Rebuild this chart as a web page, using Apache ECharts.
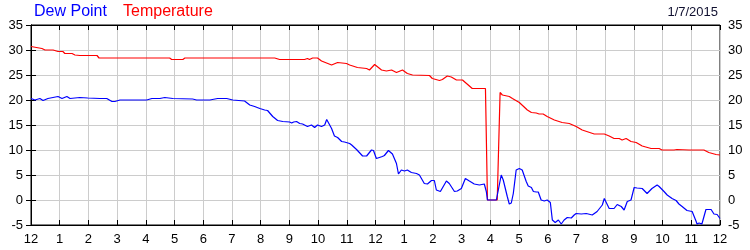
<!DOCTYPE html>
<html>
<head>
<meta charset="utf-8">
<script src="https://cdn.jsdelivr.net/npm/echarts@6/dist/echarts.min.js"></script>
<style>html,body{margin:0;padding:0;background:#fff;}#c{width:750px;height:250px;}</style>
</head>
<body>
<div id="c"></div>
<script>
// Hours since midnight and temperature values
var tempHours = [0.00,0.38,0.49,0.77,0.94,1.11,1.18,1.43,1.53,1.70,2.30,2.37,4.83,4.90,5.29,5.36,8.49,8.66,9.53,9.63,9.70,9.81,9.98,10.12,10.47,10.68,10.99,11.10,11.37,11.69,11.79,11.97,12.21,12.38,12.56,12.73,12.94,13.11,13.29,13.88,13.98,14.23,14.33,14.50,14.64,14.82,15.03,15.37,15.83,15.90,16.24,16.34,16.42,16.66,16.77,17.01,17.29,17.43,17.60,17.70,17.84,17.98,18.23,18.50,18.75,18.99,19.20,19.62,19.97,20.14,20.31,20.49,20.59,20.73,20.90,21.08,21.29,21.60,21.88,21.98,22.40,22.50,22.92,23.44,23.61,23.86,24.00];
var tempValues = [30.7,30.3,30.0,30.0,29.7,29.7,29.3,29.3,29.0,28.9,28.9,28.4,28.4,28.1,28.1,28.4,28.4,28.1,28.1,28.3,28.1,28.4,28.4,27.8,27.0,27.5,27.3,27.0,26.5,26.3,26.0,27.1,26.0,25.8,26.0,25.5,26.0,25.3,25.0,24.9,24.3,23.9,24.1,24.8,24.6,24.0,24.0,22.3,22.3,0,0,21.5,21.0,20.7,20.3,19.5,18.0,17.5,17.4,17.2,17.2,16.7,16.0,15.5,15.3,14.7,14.0,13.2,13.2,12.8,12.3,12.3,12.0,12.3,11.7,11.5,10.8,10.3,10.3,10.0,10.0,10.1,10.0,10.0,9.5,9.1,9.0];

// Hours since midnight and dew point values
var dewHours = [0.00,0.14,0.31,0.42,0.59,0.94,1.08,1.25,1.36,1.70,1.98,2.40,2.64,2.82,2.92,3.10,3.55,4.03,4.21,4.49,4.66,4.94,5.63,5.77,6.12,6.16,6.23,6.50,6.82,7.03,7.44,7.62,7.79,7.97,8.14,8.24,8.42,8.59,8.77,9.01,9.08,9.15,9.25,9.36,9.46,9.63,9.77,9.88,9.98,10.12,10.23,10.30,10.47,10.57,10.68,10.82,10.92,11.10,11.17,11.34,11.55,11.69,11.86,11.93,12.03,12.24,12.31,12.45,12.59,12.73,12.80,12.90,13.01,13.11,13.25,13.43,13.53,13.70,13.81,13.95,14.05,14.12,14.26,14.47,14.57,14.75,14.85,14.99,15.13,15.27,15.44,15.62,15.79,15.86,15.90,16.21,16.38,16.45,16.59,16.66,16.73,16.80,16.90,17.01,17.11,17.25,17.32,17.43,17.50,17.60,17.67,17.77,17.88,17.98,18.09,18.16,18.26,18.37,18.47,18.57,18.68,18.82,18.92,18.99,19.17,19.34,19.55,19.72,19.90,19.97,20.14,20.31,20.42,20.56,20.66,20.77,20.90,21.01,21.11,21.29,21.46,21.63,21.81,21.88,22.05,22.16,22.33,22.47,22.57,22.68,22.85,23.03,23.17,23.20,23.27,23.37,23.51,23.69,23.79,23.90,24.00];
var dewValues = [20.3,20.0,20.3,19.9,20.3,20.7,20.3,20.7,20.3,20.5,20.4,20.3,20.3,19.7,19.7,20.0,20.0,20.0,20.3,20.3,20.5,20.3,20.2,20.0,20.0,20.3,20.0,20.3,20.3,20.0,19.8,19.0,18.7,18.3,18.0,17.9,16.7,15.9,15.7,15.6,15.4,15.6,15.7,15.3,15.2,14.7,15.0,14.5,15.0,14.7,15.0,16.1,14.3,12.8,12.5,11.7,11.6,11.3,11.0,10.1,8.8,8.8,10.0,9.9,8.3,8.7,8.9,9.9,9.2,7.3,5.2,6.0,5.8,6.0,5.5,5.3,5.0,3.3,3.2,3.9,3.9,2.0,1.7,3.8,3.3,1.7,1.8,2.3,4.3,3.8,3.2,3.0,3.2,1.7,0,0,5.0,4.0,0.7,-0.8,-0.6,1.3,6.0,6.3,6.0,3.7,2.8,2.5,1.7,1.6,1.6,0,-0.2,0,-0.5,-4.0,-4.5,-4.0,-4.8,-4.0,-3.5,-3.6,-3.0,-2.7,-2.8,-2.7,-3.0,-2.3,-1.0,0.3,-1.7,-1.7,-0.9,-1.3,-2.0,-0.3,0,2.5,2.4,2.3,1.3,2.3,3.0,2.7,1.7,1.0,0.3,-0.1,-0.8,-1.3,-2.1,-2.3,-4.3,-4.8,-4.6,-4.8,-1.9,-1.9,-2.8,-2.9,-3.7];

var hourLabels = ['12','1','2','3','4','5','6','7','8','9','10','11','12','1','2','3','4','5','6','7','8','9','10','11','12'];
var seriesNames = ['Dew Point', 'Temperature'];
var dateLabel = '1/7/2015';

function pairs(xs, ys) { return xs.map(function (x, i) { return [x, ys[i]]; }); }

var FONT = '"Liberation Sans", Arial, sans-serif';
var chart = echarts.init(document.getElementById('c'), null, { renderer: 'canvas' });

var yAxisBase = {
  type: 'value', min: -5, max: 35, interval: 5,
  axisLine: { show: true, lineStyle: { color: '#000', width: 1 } },
  axisTick: { show: true, inside: true, length: 5, lineStyle: { color: '#000' } },
  axisLabel: { show: true, color: '#000', fontSize: 13, fontFamily: FONT, margin: 8, showMinLabel: true, showMaxLabel: true },
  splitLine: { show: false }
};

chart.setOption({
  animation: false,
  backgroundColor: '#fff',
  grid: { left: 31, right: 30, top: 25, bottom: 25, show: true, borderColor: '#000', borderWidth: 1 },
  graphic: [
    { type: 'text', left: 34, top: 4, style: { text: seriesNames[0], fill: '#0000ff', font: '16px ' + FONT } },
    { type: 'text', left: 123, top: 4, style: { text: seriesNames[1], fill: '#ff0000', font: '16px ' + FONT } },
    { type: 'text', right: 32, top: 6, style: { text: dateLabel, fill: '#101030', font: '13px ' + FONT } }
  ],
  xAxis: [
    {
      type: 'value', min: 0, max: 24, interval: 1, position: 'bottom',
      axisLine: { show: true, onZero: false, lineStyle: { color: '#000', width: 1 } },
      axisTick: { show: true, inside: true, length: 5, lineStyle: { color: '#000' } },
      axisLabel: { color: '#000', fontSize: 13, fontFamily: FONT, margin: 8, showMinLabel: true, showMaxLabel: true,
        formatter: function (v) { return hourLabels[Math.round(v)]; } },
      splitLine: { show: true, lineStyle: { color: '#cccccc', width: 1 } }
    },
    {
      type: 'value', min: 0, max: 24, interval: 1, position: 'top',
      axisLine: { show: true, onZero: false, lineStyle: { color: '#000', width: 1 } },
      axisTick: { show: true, inside: true, length: 5, lineStyle: { color: '#000' } },
      axisLabel: { show: false },
      splitLine: { show: false }
    }
  ],
  yAxis: [
    Object.assign({}, yAxisBase, { position: 'left', splitLine: { show: true, lineStyle: { color: '#cccccc', width: 1 } } }),
    Object.assign({}, yAxisBase, { position: 'right' })
  ],
  series: [
    { name: seriesNames[1], type: 'line', xAxisIndex: 0, yAxisIndex: 0, data: pairs(tempHours, tempValues),
      showSymbol: false, symbol: 'none', lineStyle: { color: '#ff0000', width: 1.2 }, clip: true },
    { name: seriesNames[0], type: 'line', xAxisIndex: 0, yAxisIndex: 0, data: pairs(dewHours, dewValues),
      showSymbol: false, symbol: 'none', lineStyle: { color: '#0000ff', width: 1.2 }, clip: true }
  ]
});
</script>
</body>
</html>
